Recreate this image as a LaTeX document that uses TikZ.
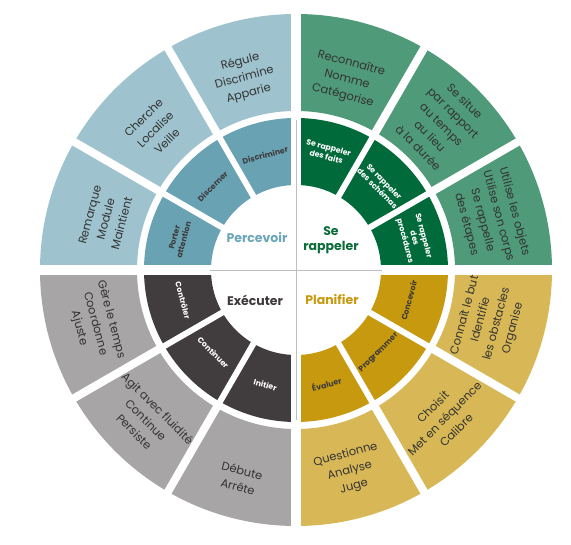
\documentclass[tikz,border=0pt]{standalone}
\usepackage{fontspec}
\setmainfont{Poppins}
\definecolor{bOut}{HTML}{9EC3CE}
\definecolor{bIn}{HTML}{68A2B3}
\definecolor{gOut}{HTML}{4F9A78}
\definecolor{gIn}{HTML}{006A3A}
\definecolor{yOut}{HTML}{D8B856}
\definecolor{yIn}{HTML}{C7990F}
\definecolor{kOut}{HTML}{A7A5A6}
\definecolor{kIn}{HTML}{413C3D}
\definecolor{txt}{HTML}{333333}
\definecolor{bTxt}{HTML}{6AA6B7}
\definecolor{gTxt}{HTML}{0B6B3B}
\definecolor{kTxt}{HTML}{3E3A3B}
\definecolor{yTxt}{HTML}{C9990E}
\tikzset{
 outerlbl/.style={align=center, text=txt, font=\fontsize{11.5}{16.5}\selectfont, inner sep=0pt},
 innerlbl/.style={align=center, font=\bfseries\fontsize{7.8}{9.6}\selectfont, inner sep=0pt},
 centerlbl/.style={align=center, font=\bfseries\fontsize{12.5}{15}\selectfont, inner sep=0pt},
 sepout/.style={white, line width=8pt},
 sepin/.style={white, line width=6pt},
 quadsep/.style={white, line width=10pt},
 crossln/.style={black!25, line width=0.8pt}
}
\begin{document}
\begin{tikzpicture}[x=1pt,y=1pt]
\useasboundingbox (-296,-275) rectangle (275,270);
% rings
\foreach \a/\c/\d in {0/gOut/gIn,90/bOut/bIn,180/kOut/kIn,270/yOut/yIn}{
 \fill[\c] (\a:159) arc[start angle=\a, delta angle=90, radius=159] -- ({\a+90}:256) arc[start angle=\a+90, delta angle=-90, radius=256] -- cycle;
 \fill[\d] (\a:85) arc[start angle=\a, delta angle=90, radius=85] -- ({\a+90}:152) arc[start angle=\a+90, delta angle=-90, radius=152] -- cycle;
}
% separators
\foreach \a in {30,60,120,150,210,240,300,330}{
 \draw[sepout] (\a:155) -- (\a:262);
 \draw[sepin] (\a:80) -- (\a:156);
}
\draw[quadsep] (-262,0) -- (262,0);
\draw[quadsep] (0,-262) -- (0,262);
\draw[crossln] (-86,0) -- (86,0);
\draw[crossln] (0,-150) -- (0,150);
% outer labels
\node[outerlbl, rotate=15]  (o1)  at (105:199) {Régule\\Discrimine\\Apparie};
\node[outerlbl, rotate=45]  (o2)  at (135:199) {Cherche\\Localise\\Veille};
\node[outerlbl, rotate=75]  (o3)  at (165:197) {Remarque\\Module\\Maintient};
\node[outerlbl, rotate=-15] (o4)  at (75:197)  {Reconnaître\\Nomme\\Catégorise};
\node[outerlbl, rotate=-45] (o5)  at (45:206)  {Se situe\\par rapport\\au temps\\au lieu\\à la durée};
\node[outerlbl, rotate=-75] (o6)  at (15:201)  {Utilise les objets\\Utilise son corps\\Se rappelle\\des étapes};
\node[outerlbl, rotate=75]  (o7)  at (-15:200) {Connaît le but\\Identifie\\les obstacles\\Organise};
\node[outerlbl, rotate=45]  (o8)  at (-45:210) {Choisit\\Met en séquence\\Calibre};
\node[outerlbl, rotate=15]  (o9)  at (-75:208) {Questionne\\Analyse\\Juge};
\node[outerlbl, rotate=-15] (o10) at (-105:216) {Débute\\Arrête};
\node[outerlbl, rotate=-45] (o11) at (-135:212) {Agit avec fluidité\\Continue\\Persiste};
\node[outerlbl, rotate=-75] (o12) at (-165:208) {Gère le temps\\Coordonne\\Ajuste};
% inner labels
\node[innerlbl, text=kTxt, rotate=15]  (i1)  at (105:119) {Discriminer};
\node[innerlbl, text=kTxt, rotate=45]  (i2)  at (135:118) {Discerner};
\node[innerlbl, text=kTxt, rotate=75]  (i3)  at (165:121) {Porter\\attention};
\node[innerlbl, text=white, rotate=-15] (i4) at (75:122)  {Se rappeler\\des faits};
\node[innerlbl, text=white, rotate=-45] (i5) at (45:120)  {Se rappeler\\des schémas};
\node[innerlbl, text=white, rotate=-75] (i6) at (15:122)  {Se rappeler\\des\\procédures};
\node[innerlbl, text=kTxt, rotate=75]  (i7)  at (-15:117) {Concevoir};
\node[innerlbl, text=kTxt, rotate=45]  (i8)  at (-45:117) {Programmer};
\node[innerlbl, text=kTxt, rotate=15]  (i9)  at (-75:118) {Évaluer};
\node[innerlbl, text=white, rotate=-15] (i10) at (-105:119) {Initier};
\node[innerlbl, text=white, rotate=-45] (i11) at (-135:117) {Continuer};
\node[innerlbl, text=white, rotate=-75] (i12) at (-165:117) {Contrôler};
% centre labels
\node[centerlbl, text=bTxt] (c1) at (-39,32) {Percevoir};
\node[centerlbl, text=gTxt] (c2) at (35,30) {Se\\rappeler};
\node[centerlbl, text=kTxt] (c3) at (-41,-30) {Exécuter};
\node[centerlbl, text=yTxt] (c4) at (36,-30) {Planifier};
\end{tikzpicture}
\end{document}
